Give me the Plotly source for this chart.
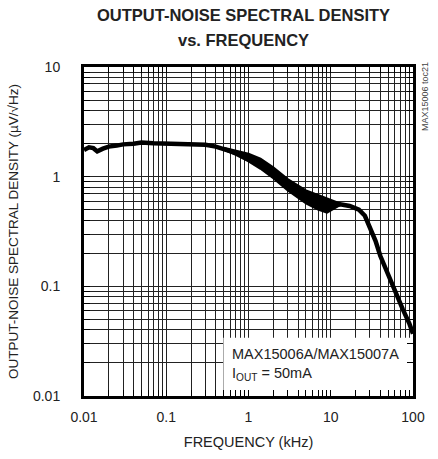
import plotly.graph_objects as go

# Main curve (kHz, uV/sqrt(Hz))
freq = [0.01, 0.0115, 0.013, 0.0145, 0.017, 0.02, 0.025, 0.03, 0.04, 0.05, 0.07, 0.1,
        0.15, 0.2, 0.3, 0.4, 0.5, 0.7, 1.0, 1.4, 2.0, 3.0, 5.0, 7.0, 10, 13, 17, 22,
        26, 30, 35, 40, 50, 60, 75, 90, 100]
noise = [1.75, 1.85, 1.82, 1.70, 1.80, 1.88, 1.92, 1.97, 2.0, 2.05, 2.02, 2.0,
         2.0, 1.97, 1.95, 1.88, 1.8, 1.65, 1.5, 1.32, 1.1, 0.85, 0.66, 0.59, 0.55, 0.56, 0.54, 0.50,
         0.44, 0.34, 0.26, 0.19, 0.125, 0.092, 0.062, 0.046, 0.037]

# Noise band envelope (upper / lower edges of the noisy trace)
band_f = [0.5, 0.7, 1.0, 1.4, 2.0, 3.0, 5.0, 7.0, 9.0, 11.0, 13.0]
band_hi = [1.84, 1.72, 1.62, 1.46, 1.22, 0.95, 0.75, 0.68, 0.63, 0.59, 0.57]
band_lo = [1.76, 1.58, 1.38, 1.18, 0.97, 0.75, 0.57, 0.50, 0.47, 0.51, 0.55]

x_ticks = [m * 10 ** e for e in range(-2, 2) for m in range(1, 10)] + [100]
x_text = ["0.01", "", "", "", "", "", "", "", "",
          "0.1", "", "", "", "", "", "", "", "",
          "1", "", "", "", "", "", "", "", "",
          "10", "", "", "", "", "", "", "", "", "100"]
y_ticks = [m * 10 ** e for e in range(-2, 1) for m in range(1, 10)] + [10]
y_text = ["0.01", "", "", "", "", "", "", "", "",
          "0.1", "", "", "", "", "", "", "", "",
          "1", "", "", "", "", "", "", "", "", "10"]

FONT = "Liberation Sans, Arial, sans-serif"
INK = "#222"

fig = go.Figure()
fig.add_trace(go.Scatter(x=band_f, y=band_lo, mode="lines",
                         line=dict(color="black", width=2), showlegend=False))
fig.add_trace(go.Scatter(x=band_f, y=band_hi, mode="lines", fill="tonexty",
                         fillcolor="black", line=dict(color="black", width=2),
                         showlegend=False))
fig.add_trace(go.Scatter(x=freq, y=noise, mode="lines",
                         line=dict(color="black", width=4.5), showlegend=False))

axis_common = dict(
    type="log", showgrid=True, gridcolor="#222", gridwidth=1,
    showline=True, linecolor="black", linewidth=3, mirror="ticks",
    ticks="inside", ticklen=6, tickcolor="black", tickwidth=1,
    zeroline=False, automargin=False,
    tickfont=dict(family=FONT, size=14, color=INK),
)

fig.update_xaxes(range=[-2, 2], tickmode="array", tickvals=x_ticks, ticktext=x_text,
                 ticklabelstandoff=6,
                 title=dict(text="FREQUENCY (kHz)", font=dict(family=FONT, size=14.5, color=INK),
                            standoff=14),
                 **axis_common)
fig.update_yaxes(range=[-2, 1], tickmode="array", tickvals=y_ticks, ticktext=y_text,
                 ticklabelstandoff=18,
                 title=dict(text="OUTPUT-NOISE SPECTRAL DENSITY (µV/√Hz)",
                            font=dict(family=FONT, size=13.5, color=INK), standoff=12),
                 **axis_common)

fig.add_shape(type="rect", xref="x", yref="y", x0=0.495, x1=100, y0=0.01, y1=0.034,
              fillcolor="white", line=dict(width=0), layer="between")

fig.add_annotation(x=0.0, y=0.0, xref="paper", yref="paper", showarrow=False,
                   xanchor="left", yanchor="bottom", align="left",
                   xshift=146, yshift=11,
                   text="MAX15006A/MAX15007A<br>I<sub>OUT</sub> = 50mA",
                   font=dict(family=FONT, size=14.5, color=INK))

fig.add_annotation(x=1.0, y=1.0, xref="paper", yref="paper", showarrow=False,
                   xanchor="center", yanchor="middle", textangle=-90, xshift=12, yshift=-30,
                   text="MAX15006 toc21", font=dict(family=FONT, size=9, color="#444"))

fig.add_annotation(x=0.5, y=1.0, xref="paper", yref="paper", showarrow=False,
                   xanchor="center", yanchor="middle", xshift=-5, yshift=52,
                   text="<b>OUTPUT-NOISE SPECTRAL DENSITY</b>",
                   font=dict(family=FONT, size=16.5, color=INK))
fig.add_annotation(x=0.5, y=1.0, xref="paper", yref="paper", showarrow=False,
                   xanchor="center", yanchor="middle", xshift=-5, yshift=27,
                   text="<b>vs. FREQUENCY</b>",
                   font=dict(family=FONT, size=16.5, color=INK))

fig.update_layout(width=438, height=459, margin=dict(l=84, r=25, t=67, b=63),
                  plot_bgcolor="white", paper_bgcolor="white", showlegend=False)

fig.write_html("out.html", config={"displayModeBar": False},
               post_script="document.body.style.margin='0';")
